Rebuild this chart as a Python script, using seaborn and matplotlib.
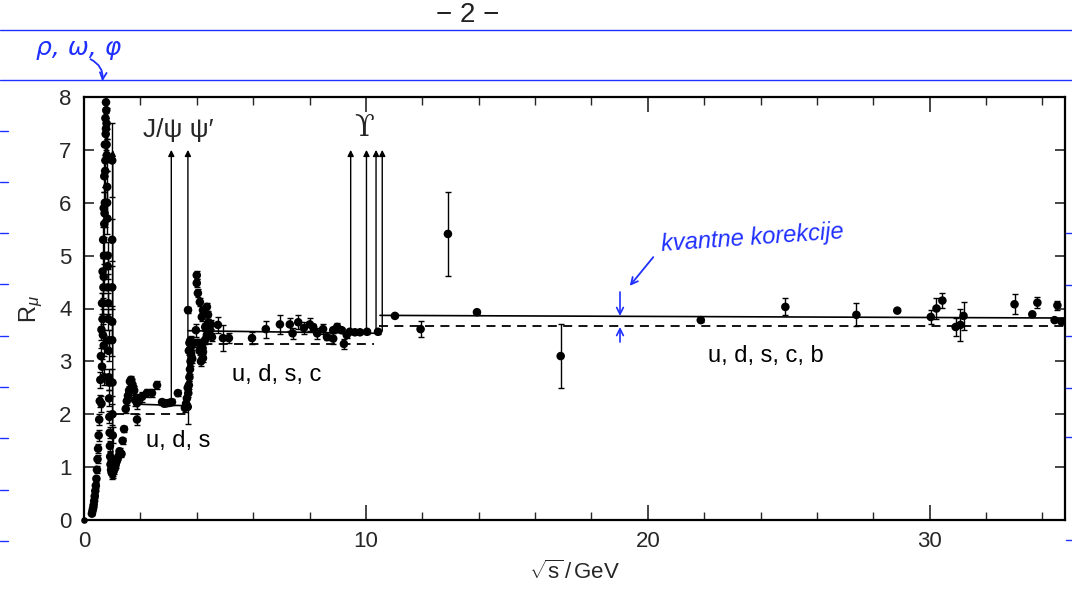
import numpy as np
import pandas as pd
import matplotlib
matplotlib.use("Agg")
import matplotlib.pyplot as plt
from matplotlib.lines import Line2D
import seaborn as sns

# ---------------- data ----------------
# low-energy region (rho / omega / phi) : x = sqrt(s) [GeV], y = R, e = error
low_x = [0.28, 0.30, 0.32, 0.34, 0.36, 0.38, 0.40, 0.42, 0.44, 0.46, 0.48, 0.50, 0.52, 0.54,
         0.56, 0.58, 0.60, 0.62, 0.64, 0.66, 0.68, 0.70, 0.72, 0.74, 0.76, 0.78,
         0.66, 0.68, 0.70, 0.72, 0.70, 0.72, 0.74, 0.75, 0.77, 0.79, 0.80, 0.81, 0.82, 0.83,
         0.84, 0.85, 0.86, 0.87, 0.88, 0.89, 0.90, 0.91, 0.92, 0.93, 0.94, 0.96, 0.98, 1.00,
         1.02, 1.04, 1.06, 1.08, 1.10, 1.12, 1.15, 1.18, 1.22, 1.26,
         0.62, 0.64, 0.67, 0.69, 0.71, 0.73, 0.76, 0.78, 0.80, 0.82, 0.84, 0.86, 0.88, 0.90]
low_y = [0.12, 0.17, 0.22, 0.28, 0.36, 0.45, 0.55, 0.65, 0.78, 0.95, 1.15, 1.35, 1.60, 1.90,
         2.25, 2.65, 3.10, 3.60, 4.10, 4.70, 5.30, 5.90, 6.50, 7.10, 7.60, 7.90,
         3.80, 4.10, 3.30, 2.70, 4.60, 5.60, 6.00, 6.60, 7.30, 7.75, 7.50, 6.90, 6.30, 5.70,
         5.00, 4.40, 3.80, 3.20, 2.70, 2.30, 1.95, 1.65, 1.40, 1.20, 1.05, 0.95, 0.90, 0.88,
         0.90, 0.92, 0.95, 0.98, 1.00, 1.05, 1.10, 1.15, 1.20, 1.30,
         2.20, 2.90, 3.50, 4.40, 5.00, 5.80, 6.80, 7.40, 7.10, 6.00, 4.80, 4.10, 3.40, 2.60]
low_e = [0.03, 0.03, 0.03, 0.03, 0.04, 0.04, 0.05, 0.05, 0.06, 0.07, 0.08, 0.08, 0.10, 0.10,
         0.12, 0.15, 0.15, 0.20, 0.20, 0.25, 0.25, 0.30, 0.30, 0.30, 0.30, 0.30,
         0.20, 0.20, 0.20, 0.15, 0.25, 0.25, 0.30, 0.30, 0.30, 0.30, 0.30, 0.30, 0.30, 0.30,
         0.25, 0.25, 0.20, 0.20, 0.15, 0.15, 0.12, 0.10, 0.10, 0.08, 0.08, 0.08, 0.08, 0.10,
         0.10, 0.08, 0.08, 0.08, 0.06, 0.06, 0.06, 0.06, 0.06, 0.06,
         0.15, 0.15, 0.20, 0.20, 0.25, 0.25, 0.30, 0.30, 0.30, 0.30, 0.25, 0.20, 0.20, 0.15]

# phi-region column and region up to the charm threshold
mid_x = [1.00, 1.00, 1.00, 1.00, 1.00, 1.01, 1.01, 1.02,
         1.33, 1.37, 1.42, 1.48, 1.52, 1.56, 1.60, 1.63, 1.67, 1.70, 1.74, 1.78,
         1.81, 1.88, 1.88, 1.95, 2.06, 2.23, 2.41, 2.59, 2.77, 2.85, 2.94, 3.05, 3.12, 3.33,
         3.58, 3.62, 3.65, 3.68, 3.70, 3.72, 3.74, 3.76, 3.78, 3.80, 3.82, 3.72, 3.74, 3.78,
         3.69, 3.84, 3.86, 3.68]
mid_y = [6.80, 5.30, 4.40, 3.75, 3.40, 2.60, 2.00, 1.60,
         1.25, 1.50, 1.72, 2.10, 2.25, 2.35, 2.45, 2.62, 2.65, 2.58, 2.52, 2.45,
         2.27, 2.21, 1.90, 2.30, 2.33, 2.40, 2.40, 2.55, 2.23, 2.20, 2.21, 2.22, 2.23, 2.40,
         2.12, 2.20, 2.30, 2.14, 2.40, 2.55, 2.70, 2.85, 3.00, 3.15, 3.30, 3.20, 3.35, 3.40,
         3.97, 3.05, 3.35, 2.50]
mid_e = [0.70, 0.40, 0.40, 0.30, 0.30, 0.25, 0.20, 0.15,
         0.06, 0.06, 0.06, 0.08, 0.08, 0.08, 0.08, 0.08, 0.08, 0.08, 0.08, 0.08,
         0.12, 0.12, 0.10, 0.08, 0.10, 0.08, 0.08, 0.08, 0.06, 0.05, 0.05, 0.05, 0.05, 0.06,
         0.08, 0.08, 0.08, 0.32, 0.08, 0.08, 0.08, 0.08, 0.08, 0.08, 0.08, 0.08, 0.08, 0.08,
         0.06, 0.08, 0.08, 0.08]

# psi' bump and charm plateau up to the Upsilon
charm_x = [3.97, 4.00, 4.00, 4.04, 4.11, 4.18, 4.22, 4.36, 4.40, 4.40, 4.47, 4.54, 4.22, 4.22,
           4.22, 4.20, 4.29, 4.36, 4.15, 4.10, 4.05, 4.30, 4.50,
           4.75, 4.93, 5.14, 5.96, 6.45, 6.95, 7.30, 7.40, 7.60, 7.80, 8.01, 8.13, 8.27, 8.48,
           8.62, 8.84, 8.84, 8.98, 9.14, 9.22, 9.32, 9.43, 9.61, 9.79, 10.04, 10.43]
charm_y = [3.59, 4.63, 4.48, 4.29, 4.12, 3.84, 3.97, 4.03, 3.88, 3.72, 3.59, 3.46, 3.35, 3.18,
           3.06, 3.25, 3.40, 3.50, 3.00, 3.20, 3.35, 3.65, 3.70,
           3.69, 3.44, 3.44, 3.44, 3.61, 3.70, 3.70, 3.53, 3.74, 3.63, 3.70, 3.65, 3.53, 3.61,
           3.46, 3.43, 3.59, 3.65, 3.59, 3.33, 3.50, 3.56, 3.55, 3.55, 3.56, 3.56]
charm_e = [0.12, 0.08, 0.08, 0.08, 0.08, 0.08, 0.08, 0.08, 0.08, 0.08, 0.08, 0.08, 0.08, 0.08,
           0.08, 0.08, 0.08, 0.08, 0.08, 0.08, 0.08, 0.08, 0.08,
           0.15, 0.24, 0.10, 0.12, 0.16, 0.18, 0.12, 0.10, 0.13, 0.12, 0.12, 0.06, 0.10, 0.10,
           0.06, 0.10, 0.05, 0.07, 0.05, 0.10, 0.05, 0.04, 0.04, 0.04, 0.04, 0.04]

# above the b threshold
high_x = [11.03, 11.94, 12.91, 13.94, 16.91, 21.88, 24.88, 27.40, 28.85, 30.04, 30.24, 30.45,
          30.92, 31.09, 31.20, 33.01, 33.64, 33.82, 34.43, 34.53, 34.68]
high_y = [3.86, 3.61, 5.41, 3.93, 3.10, 3.78, 4.03, 3.88, 3.96, 3.84, 4.00, 4.15,
          3.65, 3.69, 3.86, 4.08, 3.89, 4.11, 3.78, 4.06, 3.75]
high_e = [0.03, 0.15, 0.80, 0.03, 0.60, 0.03, 0.16, 0.22, 0.03, 0.13, 0.20, 0.14,
          0.17, 0.30, 0.26, 0.19, 0.03, 0.10, 0.03, 0.08, 0.03]

# narrow resonances (arrows): position and base level
res_x = [1.02, 3.097, 3.686, 9.46, 10.02, 10.36, 10.58]
res_base = [0.95, 2.18, 2.15, 3.56, 3.56, 3.56, 3.57]
res_top = 7.0

# quark-parton model (dashed) and QCD-corrected (solid) levels
qpm_x0 = [1.1, 3.7, 10.45]
qpm_x1 = [3.7, 10.3, 34.8]
qpm_y = [2.0, 10 / 3, 11 / 3]
qcd_x0 = [1.9, 3.69, 10.5]
qcd_x1 = [3.69, 10.5, 34.8]
qcd_y0 = [2.19, 3.58, 3.87]
qcd_y1 = [2.16, 3.53, 3.82]

region_labels = ["u, d, s", "u, d, s, c", "u, d, s, c, b"]
region_lx = [3.33, 6.85, 24.2]
region_ly = [1.5, 2.74, 3.1]

x_major = [0, 10, 20, 30]
y_major = [0, 1, 2, 3, 4, 5, 6, 7, 8]

# ---------------- figure ----------------
sns.set_theme(style="ticks")
plt.rcParams["font.family"] = ["Liberation Sans", "DejaVu Sans"]
plt.rcParams["mathtext.fontset"] = "custom"
plt.rcParams["mathtext.rm"] = "Liberation Sans"
plt.rcParams["mathtext.it"] = "Liberation Sans:italic"

W, H = 1072, 608
fig = plt.figure(figsize=(W / 100, H / 100), dpi=100)
ax = fig.add_axes([84 / W, 1 - 520 / H, (1065 - 84) / W, (520 - 97) / H])

df = pd.DataFrame({
    "x": low_x + mid_x + charm_x + high_x,
    "y": low_y + mid_y + charm_y + high_y,
    "e": low_e + mid_e + charm_e + high_e,
})

ax.errorbar(df["x"], df["y"], yerr=df["e"], fmt="none", ecolor="black",
            elinewidth=1.0, capsize=2.5, capthick=1.0, zorder=3)
sns.scatterplot(data=df, x="x", y="y", ax=ax, color="black", s=38,
                edgecolor="none", linewidth=0, zorder=4, legend=False)
ax.scatter([0.0], [0.0], color="black", s=14, zorder=5, clip_on=False)

for a, b, y in zip(qpm_x0, qpm_x1, qpm_y):
    ax.plot([a, b], [y, y], color="black", lw=1.3, ls=(0, (5, 3.5)), zorder=2)
for a, b, y0, y1 in zip(qcd_x0, qcd_x1, qcd_y0, qcd_y1):
    ax.plot([a, b], [y0, y1], color="black", lw=1.2, zorder=2)

for xr, yb in zip(res_x, res_base):
    ax.annotate("", xy=(xr, res_top), xytext=(xr, yb),
                arrowprops=dict(arrowstyle="-|>", lw=1.0, color="black",
                                mutation_scale=9, shrinkA=0, shrinkB=0), zorder=2)

for t, lx, ly in zip(region_labels, region_lx, region_ly):
    ax.text(lx, ly, t, ha="center", va="center", fontsize=17, color="black")

ax.text(3.33, 7.37, "J/ψ ψ′", ha="center", va="center", fontsize=19,
        family=["Liberation Sans", "DejaVu Sans"])
ax.text(9.92, 7.42, "ϒ", ha="center", va="center", fontsize=21,
        family=["DejaVu Serif"])

ax.set_xlim(0, 34.8)
ax.set_ylim(0, 8)
ax.set_xticks(x_major)
ax.set_xticks(np.arange(0, 35, 2), minor=True)
ax.set_yticks(y_major)
ax.tick_params(axis="x", which="major", direction="in", length=11, width=1.2,
               top=True, labelsize=16, pad=8)
ax.tick_params(axis="x", which="minor", direction="in", length=6, width=1.0, top=True)
ax.tick_params(axis="y", which="major", direction="in", length=7, width=1.2,
               right=True, labelsize=16, pad=9)
for sp in ax.spines.values():
    sp.set_linewidth(1.6)
    sp.set_color("black")
ax.set_xlabel(r"$\sqrt{\mathrm{s}}\,/\,\mathrm{GeV}$", fontsize=16, labelpad=6)
ax.set_ylabel(r"$\mathrm{R}_{\mu}$", fontsize=17, labelpad=10)

# ---------------- notebook page annotations ----------------
blue = "#1f2fff"
def fp(px, py):
    return (px / W, 1 - py / H)

for py in [30, 80]:
    fig.add_artist(Line2D([0, 1], [1 - py / H] * 2, color=blue, lw=1.0,
                          transform=fig.transFigure))
for py in [131, 182, 233, 284, 336, 387, 438, 490, 541]:
    fig.add_artist(Line2D([0, 8 / W], [1 - py / H] * 2, color=blue, lw=1.0,
                          transform=fig.transFigure))
for py in [233, 285, 336, 388, 437, 540]:
    fig.add_artist(Line2D([1 - 6 / W, 1], [1 - py / H] * 2, color=blue, lw=1.0,
                          transform=fig.transFigure))

fig.text(*fp(36, 48), "ρ, ω, φ", color=blue, fontsize=18, style="italic",
         va="center", ha="left", family=["DejaVu Sans"])
fig.text(*fp(468, 15), "− 2 −", color="#222222", fontsize=20, va="center", ha="center")
fig.text(*fp(660, 238), "kvantne korekcije", color=blue, fontsize=17, style="italic",
         va="center", ha="left", rotation=4)
ax.annotate("", xy=fp(102, 84), xytext=fp(88, 58), xycoords="figure fraction",
            textcoords="figure fraction",
            arrowprops=dict(arrowstyle="->", color=blue, lw=1.3,
                            connectionstyle="arc3,rad=-0.4"))
ax.annotate("", xy=fp(628, 288), xytext=fp(655, 255), xycoords="figure fraction",
            textcoords="figure fraction",
            arrowprops=dict(arrowstyle="->", color=blue, lw=1.3))
ax.annotate("", xy=fp(620, 316), xytext=fp(620, 292), xycoords="figure fraction",
            textcoords="figure fraction",
            arrowprops=dict(arrowstyle="->", color=blue, lw=1.2, shrinkA=0, shrinkB=0))
ax.annotate("", xy=fp(620, 327), xytext=fp(620, 342), xycoords="figure fraction",
            textcoords="figure fraction",
            arrowprops=dict(arrowstyle="->", color=blue, lw=1.2, shrinkA=0, shrinkB=0))

fig.savefig("out.png", dpi=100)
